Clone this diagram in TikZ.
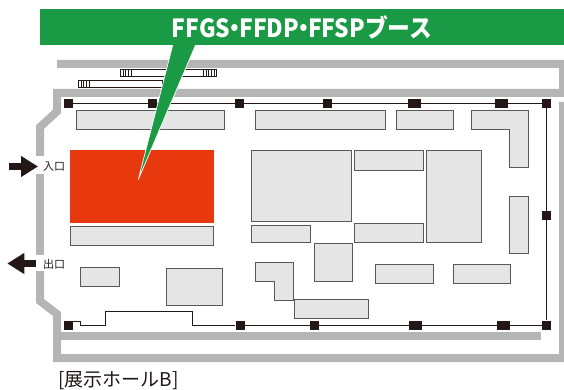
\documentclass[tikz,border=0pt]{standalone}
\usepackage{fontspec}
\setmainfont{Noto Sans CJK JP}
\usetikzlibrary{arrows.meta}

\definecolor{wallgray}{HTML}{B5B5B5}
\definecolor{boothgray}{HTML}{E5E5E5}
\definecolor{boothline}{HTML}{595757}
\definecolor{inkblack}{HTML}{231815}
\definecolor{bannergreen}{HTML}{1A9A44}
\definecolor{boothred}{HTML}{E8380D}

\newcommand{\tdot}{\hspace{-0.3em}・\hspace{-0.3em}}

\tikzset{
	wall/.style = {draw = wallgray, line width = 8pt, miter limit = 10},
	booth/.style = {rectangle, draw = boothline, fill = boothgray, line width = 0.8pt, inner sep = 0pt},
	pillar/.style = {rectangle, fill = inkblack, inner sep = 0pt, minimum width = 9pt, minimum height = 9pt},
	widepillar/.style = {pillar, minimum width = 13pt},
	hallline/.style = {draw = inkblack, line width = 0.9pt},
	gatearrow/.style = {draw = inkblack, line width = 7pt, -{Triangle[length = 17pt, width = 20pt]}},
	gatelabel/.style = {inner sep = 0pt, font = \fontsize{11}{11}\selectfont, text = inkblack},
	stairs/.style = {draw = inkblack, line width = 0.5pt}
}

\begin{document}
\begin{tikzpicture}[x = 1pt, y = -1pt]
\useasboundingbox (0,0) rectangle (564,390);
\clip (0,0) rectangle (564,390);

% walls
\draw[wall] (57,64) -- (563,64) -- (563,93) -- (57,93) -- (57,111.5) -- (40,127) -- (40,156);
\draw[wall] (40,174) -- (40,255);
\draw[wall] (40,271) -- (40,301) -- (57,314) -- (57,358) -- (563,358) -- (563,102);
\draw[wall] (57,335.5) -- (541,335.5);

% stairs
\draw[stairs] (120,69.3) rectangle (216.7,76.3);
\draw[stairs] (78,80.7) rectangle (162,87.7);
\foreach \x in {120,122.8,...,134} {
	\draw[stairs] (\x,69.3) -- (\x,76.3);
	\draw[stairs] (\x+83,69.3) -- (\x+83,76.3);
	\draw[stairs] (\x-42,80.7) -- (\x-42,87.7);
}

% booths
\node[booth, minimum width = 147.6pt, minimum height = 19pt] (b1) at (150.5,119.5) {};
\node[booth, minimum width = 130.3pt, minimum height = 19pt] (b2) at (320.2,119.5) {};
\node[booth, minimum width = 57pt, minimum height = 19pt] (b3) at (424.8,119.5) {};
\filldraw[draw = boothline, fill = boothgray, line width = 0.8pt] (471.3,110) -- (528.7,110) -- (528.7,167) -- (509.7,167) -- (509.7,129) -- (471.3,129) -- cycle;
\node[booth, minimum width = 100.7pt, minimum height = 70.7pt] (b5) at (301.3,185.7) {};
\node[booth, minimum width = 69pt, minimum height = 19.7pt] (b6) at (389.2,160.2) {};
\node[booth, minimum width = 55pt, minimum height = 92.4pt] (b7) at (453.8,196.5) {};
\node[booth, minimum width = 19pt, minimum height = 57pt] (b8) at (519.2,224.5) {};
\node[booth, minimum width = 69pt, minimum height = 19.4pt] (b9) at (389.2,233) {};
\node[booth, minimum width = 59pt, minimum height = 17.7pt] (b10) at (280.8,233.8) {};
\node[booth, minimum width = 38pt, minimum height = 38pt] (b11) at (333.3,262.3) {};
\node[booth, minimum width = 57.3pt, minimum height = 19pt] (b12) at (404.3,274.2) {};
\node[booth, minimum width = 57pt, minimum height = 19pt] (b13) at (481.5,274.2) {};
\filldraw[draw = boothline, fill = boothgray, line width = 0.8pt] (255,262.3) -- (293,262.3) -- (293,300.7) -- (274,300.7) -- (274,281.7) -- (255,281.7) -- cycle;
\node[booth, minimum width = 73.6pt, minimum height = 19pt] (b15) at (331.5,308.5) {};
\node[booth, minimum width = 143.4pt, minimum height = 19pt] (b16) at (142,235.5) {};
\node[booth, minimum width = 38.7pt, minimum height = 19pt] (b17) at (99.7,277.2) {};
\node[booth, minimum width = 55.7pt, minimum height = 36.6pt] (b18) at (194.2,287) {};
\node[rectangle, fill = boothred, inner sep = 0pt, minimum width = 144pt, minimum height = 73pt] (ffgs) at (142,186.5) {};

% pillars
\node[pillar] (t1) at (68.3,103.5) {};
\node[pillar] (t2) at (152.3,103.5) {};
\node[pillar] (t3) at (239.3,103.5) {};
\node[pillar] (t4) at (327.3,103.5) {};
\node[widepillar] (t5) at (414.3,103.5) {};
\node[widepillar] (t6) at (501.3,103.5) {};
\node[pillar] (t7) at (546.3,103.5) {};
\node[pillar] (r1) at (546.3,215.3) {};
\node[pillar] (u1) at (68.3,325) {};
\node[pillar] (u2) at (240,325) {};
\node[pillar] (u3) at (314.3,325) {};
\node[widepillar] (u4) at (415.3,325) {};
\node[widepillar] (u5) at (503.3,325) {};
\node[pillar] (u6) at (546.3,325) {};

\draw[hallline] (t1) -- (t2) -- (t3) -- (t4) -- (t5) -- (t6) -- (t7) -- (r1) -- (u6) -- (u5) -- (u4) -- (u3) -- (u2) -- (192.7,325) -- (192.7,311) -- (105.7,311) -- (105.7,325) -- (80.3,325) -- (80.3,321) -- (72.8,321);

% gates
\node[gatelabel] (inlabel) at (54,167) {入口};
\node[gatelabel] (outlabel) at (54,264) {出口};
\coordinate (inA) at (9.3,166.5);
\coordinate (inB) at (38,166.5);
\coordinate (outA) at (35.7,263.5);
\coordinate (outB) at (7.3,263.5);
\draw[gatearrow] (inA) -- (inB);
\draw[gatearrow] (outA) -- (outB);

% banner
\filldraw[draw = white, fill = bannergreen, line width = 0.7pt] (173,44) -- (196,44) -- (138.3,179.5) -- cycle;
\node[rectangle, fill = bannergreen, inner sep = 0pt, minimum width = 524pt, minimum height = 36pt, text = white, font = \fontsize{25}{25}\selectfont\bfseries] (banner) at (302,27) {\scalebox{0.91}[1]{FFGS\tdot FFDP\tdot FFSPブース}};

\node[inner sep = 0pt, anchor = base west, text = inkblack, font = \fontsize{19}{19}\selectfont] (hall) at (58,386) {[展示ホールB]};
\end{tikzpicture}
\end{document}
